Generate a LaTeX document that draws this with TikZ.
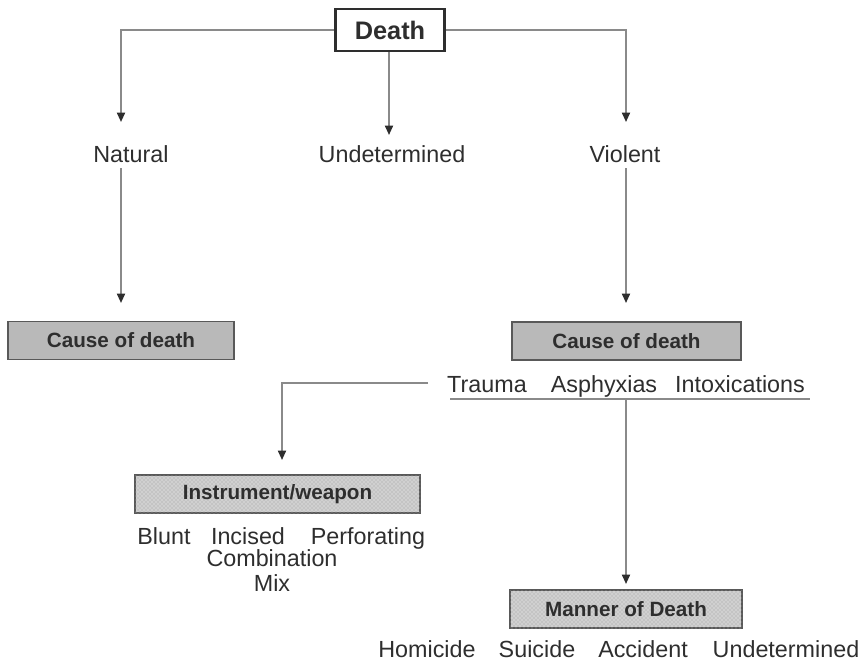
\documentclass[tikz,border=0pt]{standalone}
\usepackage{fontspec}
\setmainfont{Liberation Sans}
\usetikzlibrary{arrows.meta,patterns}
\definecolor{ln}{HTML}{8A8A8A}
\definecolor{tx}{HTML}{2E2E2E}
\definecolor{boxfill}{HTML}{B9B9B9}
\definecolor{dotfill}{HTML}{D0D0D0}
\begin{document}
\begin{tikzpicture}[x=0.75pt,y=-0.75pt,
 lbl/.style={font=\fontsize{17.5}{21}\selectfont, text=tx, inner sep=0, anchor=base},
 conn/.style={draw=ln, line width=1.3pt, -{Triangle[length=7pt,width=6pt,color=tx]}},
 plain/.style={draw=ln, line width=1.3pt},
 graybox/.style={draw=gray!70!black, fill=boxfill, line width=0.8pt, minimum height=28.5pt, font=\bfseries\fontsize{15.5}{19}\selectfont, text=tx, inner sep=0},
 dotbox/.style={graybox, fill=dotfill, postaction={pattern=crosshatch dots, pattern color=gray!75}},
 deathbox/.style={draw=tx, line width=2pt, fill=white, minimum width=82pt, minimum height=31.5pt, font=\bfseries\fontsize{19}{22}\selectfont, text=tx, inner sep=0}]
\useasboundingbox (0,0) rectangle (868,664);

% top
\node[deathbox] (death) at (390,30) {Death};
\node[lbl] (natural) at (131,162) {Natural};
\node[lbl] (undet) at (392,162) {Undetermined};
\node[lbl] (violent) at (625,162) {Violent};

\coordinate (lt) at (121,122);
\coordinate (rt) at (626,122);
\coordinate (mt) at (389,135);
\draw[conn] (death.west) -| (lt);
\draw[conn] (death.east) -| (rt);
\draw[conn] (death.south -| mt) -- (mt);

% cause of death boxes
\node[graybox, minimum width=169.5pt] (causeL) at (121,340.5) {Cause of death};
\node[graybox, minimum width=171.75pt] (causeR) at (626.5,341) {Cause of death};
\coordinate (ns) at (121,168);
\coordinate (nt) at (121,303);
\coordinate (vs) at (626,168);
\coordinate (vt) at (626,303);
\draw[conn] (ns) -- (nt);
\draw[conn] (vs) -- (vt);

% causes row
\node[lbl] (trauma) at (487,392) {Trauma};
\node[lbl] (asph) at (604,392) {Asphyxias};
\node[lbl] (intox) at (740,392) {Intoxications};
\coordinate (ul1) at (450,399);
\coordinate (ul2) at (810,399);
\draw[plain] (ul1) -- (ul2);

% trauma branch
\coordinate (tr0) at (428,383);
\coordinate (tr1) at (282,460);
\draw[conn] (tr0) -| (tr1);
\node[dotbox, minimum width=213.75pt] (instr) at (277.5,494) {Instrument/weapon};
\node[lbl] (blunt) at (164,544) {Blunt};
\node[lbl] (incised) at (248,544) {Incised};
\node[lbl] (perf) at (368,544) {Perforating};
\node[lbl] (comb) at (272,566) {Combination};
\node[lbl] (mix) at (272,591) {Mix};

% manner branch
\coordinate (ms) at (626,399);
\coordinate (mtip) at (626,584);
\draw[conn] (ms) -- (mtip);
\node[dotbox, minimum width=174pt] (manner) at (626,609) {Manner of Death};
\node[lbl] (hom) at (427,657) {Homicide};
\node[lbl] (sui) at (537,657) {Suicide};
\node[lbl] (acc) at (643,657) {Accident};
\node[lbl] (und2) at (786,657) {Undetermined};
\end{tikzpicture}
\end{document}
